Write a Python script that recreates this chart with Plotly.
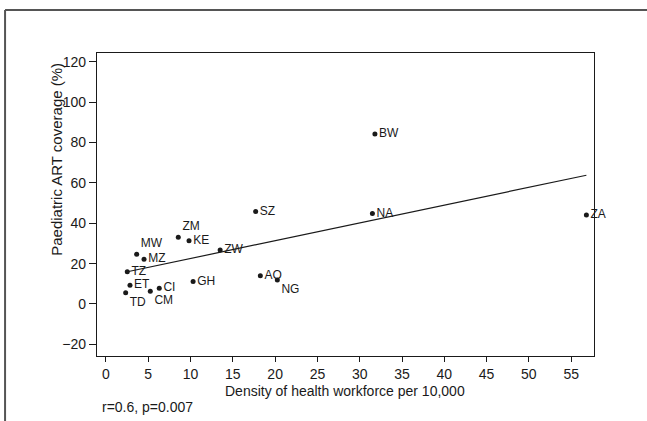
import plotly.graph_objects as go

countries = ["BW", "NA", "ZA", "SZ", "ZW", "AO", "NG", "GH", "KE", "ZM",
             "MW", "MZ", "TZ", "ET", "CI", "CM", "TD"]
density = [31.8, 31.5, 56.8, 17.7, 13.5, 18.25, 20.26, 10.3, 9.82, 8.55,
           3.63, 4.5, 2.52, 2.84, 6.3, 5.24, 2.33]
coverage = [84.2, 44.8, 44.1, 45.8, 26.8, 14.0, 11.9, 11.1, 31.3, 33.1,
            24.7, 22.2, 16.0, 9.3, 7.8, 6.3, 5.6]
label_pos = ["middle right", "middle right", "middle right", "middle right",
             "middle right", "middle right", "bottom right", "middle right",
             "middle right", "top right", "top right", "middle right",
             "middle right", "middle right", "middle right", "bottom right",
             "bottom right"]

fit_x = [2.25, 56.8]
fit_y = [15.7, 63.8]

x_ticks = [0, 5, 10, 15, 20, 25, 30, 35, 40, 45, 50, 55]
y_ticks = [-20, 0, 20, 40, 60, 80, 100, 120]

font = "Liberation Sans, Arial, sans-serif"
ink = "#1a1a1a"

fig = go.Figure()
fig.add_trace(go.Scatter(
    x=fit_x, y=fit_y, mode="lines",
    line=dict(color=ink, width=1.2), hoverinfo="skip", showlegend=False))
fig.add_trace(go.Scatter(
    x=density, y=coverage, mode="markers+text",
    text=countries, textposition=label_pos, cliponaxis=False,
    textfont=dict(family=font, size=12, color=ink),
    marker=dict(color=ink, size=5),
    showlegend=False))

fig.update_layout(
    width=647, height=421,
    margin=dict(l=97, r=53, t=53, b=65),
    paper_bgcolor="white", plot_bgcolor="white",
    font=dict(family=font, size=14, color=ink),
    xaxis=dict(range=[-1.06, 57.7], tickvals=x_ticks, showgrid=False,
               zeroline=False, showline=True, linecolor=ink, linewidth=1.3,
               mirror=True, ticks="outside", ticklen=5, tickcolor=ink,
               tickfont=dict(size=14)),
    yaxis=dict(range=[-25.8, 124.4], tickvals=y_ticks, showgrid=False,
               zeroline=False, showline=True, linecolor=ink, linewidth=1.3,
               mirror=True, ticks="outside", ticklen=7, tickcolor=ink,
               tickfont=dict(size=14)),
    shapes=[
        dict(type="line", xref="paper", yref="paper", x0=-0.185, x1=1.2,
             y0=1.142, y1=1.142, line=dict(color="#555", width=2)),
        dict(type="line", xref="paper", yref="paper", x0=-0.185, x1=-0.185,
             y0=1.142, y1=-0.3, line=dict(color="#555", width=2)),
    ],
    annotations=[
        dict(text="Paediatric ART coverage (%)", xref="paper", yref="paper",
             x=-0.083, y=0.650, xanchor="center", yanchor="middle",
             textangle=-90, showarrow=False, font=dict(size=15)),
        dict(text="Density of health workforce per 10,000", xref="paper",
             yref="paper", x=0.499, y=-0.1155, xanchor="center",
             yanchor="middle", showarrow=False, font=dict(size=14)),
        dict(text="r=0.6, p=0.007", xref="paper", yref="paper",
             x=0.006, y=-0.168, xanchor="left", yanchor="middle",
             showarrow=False, font=dict(size=14)),
    ],
)

fig.write_html("out.html", config={"displayModeBar": False},
               post_script="document.body.style.margin='0';")
